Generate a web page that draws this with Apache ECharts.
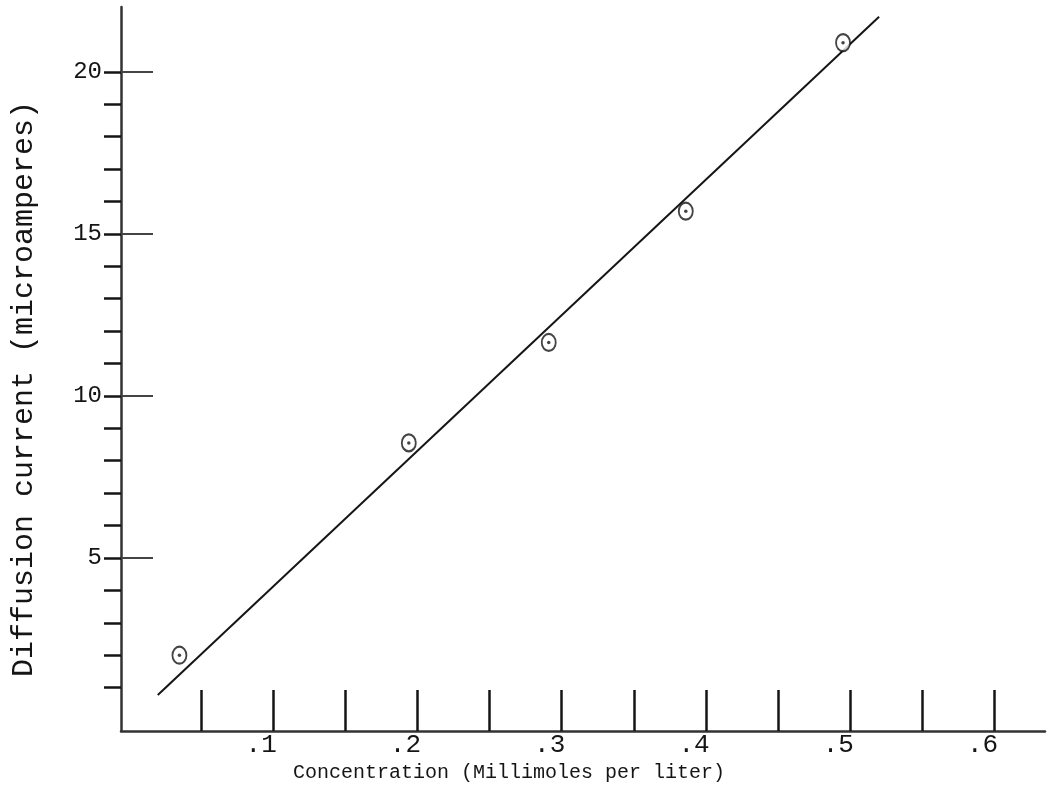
<!DOCTYPE html>
<html>
<head>
<meta charset="utf-8">
<script src="https://cdn.jsdelivr.net/npm/echarts@6/dist/echarts.min.js"></script>
<style>html,body{margin:0;padding:0;background:#fff}#c{width:1049px;height:797px}</style>
</head>
<body>
<div id="c"></div>
<script>
// Data
var concentration = [0.035, 0.194, 0.291, 0.386, 0.495];
var current = [2.0, 8.55, 11.65, 15.7, 20.9];
var fitLineX = [0.020, 0.520];
var fitLineY = [0.77, 21.7];
var xTickValues = [0.05, 0.1, 0.15, 0.2, 0.25, 0.3, 0.35, 0.4, 0.45, 0.5, 0.55, 0.6];
var xLabelValues = [0.1, 0.2, 0.3, 0.4, 0.5, 0.6];
var yTickValues = [1,2,3,4,5,6,7,8,9,10,11,12,13,14,15,16,17,18,19,20];
var yLabelValues = [5, 10, 15, 20];

var ink = '#151515';
var font = 'Liberation Mono';
var points = concentration.map(function (x, i) { return [x, current[i]]; });
var fit = fitLineX.map(function (x, i) { return [x, fitLineY[i]]; });

var chart = echarts.init(document.getElementById('c'), null, {renderer: 'canvas'});
chart.setOption({
  backgroundColor: '#fff',
  animation: false,
  grid: {left: 121, right: 4, top: 7, bottom: 66, containLabel: false},
  xAxis: {
    type: 'value', min: -0.0055, max: 0.635,
    splitLine: {show: false},
    axisLine: {show: true, onZero: false, lineStyle: {color: '#333', width: 2.5}},
    axisTick: {show: true, inside: true, length: 41, customValues: xTickValues,
      lineStyle: {color: ink, width: 2.5}},
    axisLabel: {show: true, customValues: xLabelValues, margin: 1,
      fontFamily: font, fontSize: 26, color: ink, padding: [0, 24, 0, 0],
      formatter: function (v) { return String(v).replace(/^0/, ''); }},
    name: 'Concentration (Millimoles per liter)',
    nameLocation: 'middle', nameGap: 32,
    nameTextStyle: {fontFamily: font, fontSize: 20, color: ink, padding: [0, 148, 0, 0]}
  },
  yAxis: [{
    type: 'value', min: -0.34, max: 22, position: 'left',
    splitLine: {show: false},
    axisLine: {show: true, onZero: false, lineStyle: {color: '#333', width: 2.5}},
    axisTick: {show: true, inside: false, length: 17, customValues: yTickValues,
      lineStyle: {color: ink, width: 2.5}},
    axisLabel: {show: true, customValues: yLabelValues, margin: 19,
      fontFamily: font, fontSize: 24, color: ink},
    name: 'Diffusion current (microamperes)',
    nameLocation: 'middle', nameGap: 82, nameRotate: 90,
    nameTextStyle: {fontFamily: font, fontSize: 30, color: ink, padding: [0, 40, 0, 0]}
  }, {
    type: 'value', min: -0.34, max: 22, position: 'left', offset: 0,
    splitLine: {show: false},
    axisLine: {show: false, onZero: false},
    axisTick: {show: true, inside: true, length: 32, customValues: yLabelValues,
      lineStyle: {color: '#444', width: 2}},
    axisLabel: {show: false}
  }],
  series: [{
    type: 'line', data: fit, showSymbol: false, symbol: 'none',
    lineStyle: {color: ink, width: 2}, silent: true, z: 2
  }, {
    type: 'scatter', data: points, symbol: 'emptyCircle', symbolSize: [14, 17],
    itemStyle: {color: ink, borderColor: ink, borderWidth: 3}, z: 3
  }, {
    type: 'scatter', data: points, symbol: 'circle', symbolSize: 3.5,
    itemStyle: {color: ink}, z: 4
  }]
});
</script>
</body>
</html>
